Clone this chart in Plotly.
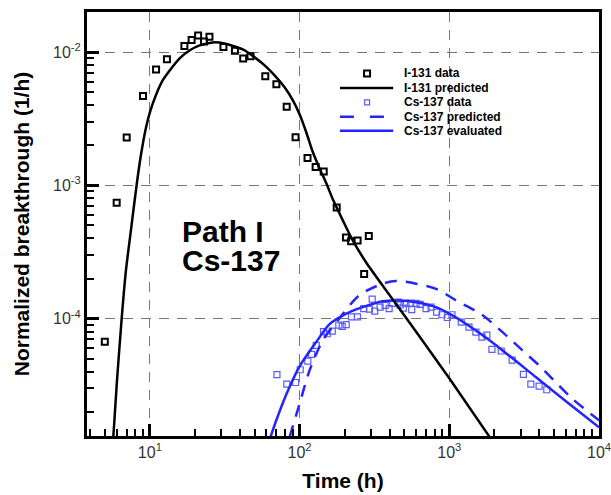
import plotly.graph_objects as go

# ---- I-131 measured breakthrough (time in h, normalized breakthrough in 1/h)
i131_t = [5, 6, 7, 9, 11, 13, 17, 19, 21, 23, 25, 31, 37, 42, 47, 59, 70, 82,
          94, 113, 128, 145, 177, 204, 221, 244, 270, 290]
i131_c = [6.7e-5, 7.4e-4, 2.28e-3, 4.67e-3, 7.38e-3, 8.82e-3, 1.11e-2, 1.23e-2,
          1.33e-2, 1.20e-2, 1.30e-2, 1.09e-2, 1.02e-2, 8.92e-3, 9.29e-3, 6.57e-3,
          5.73e-3, 3.89e-3, 2.29e-3, 1.60e-3, 1.37e-3, 1.27e-3, 6.81e-4, 4.07e-4,
          3.80e-4, 3.85e-4, 2.16e-4, 4.17e-4]

# ---- I-131 model prediction
i131_pred_t = [5.7, 6.03, 6.48, 6.92, 7.47, 8.15, 8.71, 9.4, 10, 10.96, 12.2, 13.6,
               15.8, 18.5, 21.5, 26.3, 31.6, 36.9, 43, 50.1, 58.4, 68.1, 79.4, 90.2,
               100, 110.8, 122.7, 136, 150.6, 166.8, 194.4, 226.5, 278.5, 378.5,
               631, 1000, 1848]
i131_pred_c = [1.3e-5, 3.44e-5, 1.0e-4, 2.3e-4, 4.6e-4, 1.0e-3, 1.68e-3, 2.68e-3,
               3.53e-3, 4.73e-3, 6.14e-3, 7.3e-3, 8.97e-3, 1.03e-2, 1.12e-2, 1.18e-2,
               1.16e-2, 1.10e-2, 1.03e-2, 9.12e-3, 7.94e-3, 6.68e-3, 5.43e-3, 4.34e-3,
               3.41e-3, 2.50e-3, 1.77e-3, 1.34e-3, 1.04e-3, 7.85e-4, 5.46e-4, 3.86e-4,
               2.64e-4, 1.63e-4, 7.38e-5, 3.57e-5, 1.31e-5]

# ---- Cs-137 measured breakthrough
cs137_t = [70.6, 82.2, 94, 101, 113.5, 120.2, 129.2, 144.5, 153, 165.2, 182.8, 192.6,
           204.8, 222.1, 243.6, 268.4, 292.9, 305.5, 317.7, 345.1, 372.6, 396.2, 418.8,
           455, 469, 493, 514, 552, 561, 600, 638, 700, 755, 823, 894, 970, 1042,
           1202, 1353, 1506, 1652, 1783, 1926, 2222, 2630, 3127, 3506, 3981, 4480]
cs137_c = [3.80e-5, 3.23e-5, 3.32e-5, 4.14e-5, 4.81e-5, 5.40e-5, 6.31e-5, 7.99e-5,
           7.71e-5, 8.07e-5, 8.95e-5, 8.75e-5, 9.01e-5, 1.03e-4, 1.03e-4, 1.19e-4,
           1.18e-4, 1.40e-4, 1.14e-4, 1.22e-4, 1.26e-4, 1.19e-4, 1.30e-4, 1.33e-4,
           1.27e-4, 1.20e-4, 1.30e-4, 1.31e-4, 1.17e-4, 1.30e-4, 1.28e-4, 1.19e-4,
           1.22e-4, 1.12e-4, 1.07e-4, 1.02e-4, 1.07e-4, 9.42e-5, 8.64e-5, 7.93e-5,
           7.27e-5, 7.53e-5, 5.89e-5, 5.72e-5, 4.89e-5, 3.82e-5, 3.23e-5, 3.12e-5,
           2.93e-5]

# ---- Cs-137 model prediction
cs137_pred_t = [85.8, 100, 116.6, 143, 185, 251, 359, 441, 600, 832, 1109, 1635,
                2266, 3080, 3981, 5140, 6637, 10000]
cs137_pred_c = [1.3e-5, 2.3e-5, 4.09e-5, 6.87e-5, 1.01e-4, 1.50e-4, 1.83e-4, 1.92e-4,
                1.83e-4, 1.66e-4, 1.37e-4, 1.08e-4, 7.93e-5, 5.78e-5, 4.46e-5,
                3.34e-5, 2.51e-5, 1.73e-5]

# ---- Cs-137 evaluated (fitted) curve
cs137_eval_t = [64, 69.9, 81.5, 100, 129, 158, 205, 264, 359, 464, 600, 815, 1000,
                1290, 1670, 2270, 3780, 6310, 10000]
cs137_eval_c = [1.3e-5, 1.73e-5, 2.70e-5, 4.39e-5, 6.67e-5, 9.06e-5, 1.09e-4, 1.22e-4,
                1.35e-4, 1.37e-4, 1.33e-4, 1.22e-4, 1.09e-4, 9.16e-5, 7.50e-5,
                5.78e-5, 3.65e-5, 2.30e-5, 1.53e-5]

# ---- axis ticks
x_major = [10, 100, 1000, 10000]
x_major_text = ["10<sup>1</sup>", "10<sup>2</sup>", "10<sup>3</sup>", "10<sup>4</sup>"]
x_minor = [m * d for d in (1, 10, 100, 1000) for m in range(2, 10) if m * d >= 4]
y_major = [1e-4, 1e-3, 1e-2]
y_major_text = ["10<sup>-4</sup>", "10<sup>-3</sup>", "10<sup>-2</sup>"]
y_minor = [m * d for d in (1e-5, 1e-4, 1e-3) for m in range(2, 10)]

legend_labels = ["I-131 data", "I-131 predicted", "Cs-137 data",
                 "Cs-137 predicted", "Cs-137 evaluated"]

BLUE = "#2424ff"
BLUE_PT = "#5a5aff"
FONT = "Liberation Sans, Arial, sans-serif"

fig = go.Figure()

fig.add_trace(go.Scatter(x=cs137_t, y=cs137_c, mode="markers",
                         marker=dict(symbol="square-open", size=6, color=BLUE_PT,
                                     line=dict(width=1.2, color=BLUE_PT))))
fig.add_trace(go.Scatter(x=cs137_pred_t, y=cs137_pred_c, mode="lines",
                         line=dict(color=BLUE, width=2.5, dash="12px,9px",
                                   shape="spline", smoothing=0.8)))
fig.add_trace(go.Scatter(x=cs137_eval_t, y=cs137_eval_c, mode="lines",
                         line=dict(color=BLUE, width=2.5, shape="spline", smoothing=0.8)))
fig.add_trace(go.Scatter(x=i131_pred_t, y=i131_pred_c, mode="lines",
                         line=dict(color="black", width=2.5, shape="spline", smoothing=0.6)))
fig.add_trace(go.Scatter(x=i131_t, y=i131_c, mode="markers",
                         marker=dict(symbol="square-open", size=6, color="black",
                                     line=dict(width=2, color="black"))))

# ---- hand-built compact legend (paper coordinates)
rows_y = [0.855, 0.821, 0.787, 0.753, 0.720]
sym_x0, sym_x1, sym_xc, text_x = 0.494, 0.598, 0.547, 0.615
shapes = []
# I-131 data marker
shapes.append(dict(type="rect", xref="paper", yref="paper", xsizemode="pixel",
                   ysizemode="pixel", xanchor=sym_xc, yanchor=rows_y[0],
                   x0=-3, x1=3, y0=-3, y1=3, line=dict(color="black", width=2)))
# I-131 predicted line
shapes.append(dict(type="line", xref="paper", yref="paper", x0=sym_x0, x1=sym_x1,
                   y0=rows_y[1], y1=rows_y[1], line=dict(color="black", width=2.5)))
# Cs-137 data marker
shapes.append(dict(type="rect", xref="paper", yref="paper", xsizemode="pixel",
                   ysizemode="pixel", xanchor=sym_xc, yanchor=rows_y[2],
                   x0=-2.5, x1=2.5, y0=-2.5, y1=2.5, line=dict(color=BLUE_PT, width=1.2)))
# Cs-137 predicted dashed line
shapes.append(dict(type="line", xref="paper", yref="paper", x0=sym_x0, x1=sym_x1,
                   y0=rows_y[3], y1=rows_y[3],
                   line=dict(color=BLUE, width=2.5, dash="14px,16px")))
# Cs-137 evaluated line
shapes.append(dict(type="line", xref="paper", yref="paper", x0=sym_x0, x1=sym_x1,
                   y0=rows_y[4], y1=rows_y[4], line=dict(color=BLUE, width=2.5)))

annotations = []
for lab, yy in zip(legend_labels, rows_y):
    annotations.append(dict(text=lab, xref="paper", yref="paper", x=text_x, y=yy,
                            xanchor="left", yanchor="middle", showarrow=False,
                            font=dict(family=FONT, size=12, color="black",
                                      weight="bold")))

# ---- case label
for lab, yy in zip(["Path I", "Cs-137"], [0.483, 0.414]):
    annotations.append(dict(text=lab, xref="paper", yref="paper", x=0.181, y=yy,
                            xanchor="left", yanchor="middle", showarrow=False,
                            font=dict(family=FONT, size=30, color="black",
                                      weight="bold")))

axis_common = dict(
    showline=True, linecolor="black", linewidth=3, mirror=True,
    ticks="inside", ticklen=12, tickwidth=2.5, tickcolor="black",
    showgrid=True, gridcolor="#777777", gridwidth=1.3, griddash="10px,8px",
    zeroline=False, automargin=False, ticklabeloverflow="allow",
    tickfont=dict(family=FONT, size=16, color="#333333"),
)

fig.update_xaxes(type="log", range=[0.58, 4.0], tickmode="array",
                 tickvals=x_major, ticktext=x_major_text,
                 minor=dict(tickmode="array", tickvals=x_minor, ticks="inside",
                            ticklen=7, tickwidth=2, tickcolor="black", showgrid=False),
                 title=dict(text="<b>Time (h)</b>", standoff=14,
                            font=dict(family=FONT, size=21, color="black")),
                 **axis_common)
fig.update_yaxes(type="log", range=[-4.88, -1.70], tickmode="array",
                 tickvals=y_major, ticktext=y_major_text,
                 minor=dict(tickmode="array", tickvals=y_minor, ticks="inside",
                            ticklen=7, tickwidth=2, tickcolor="black", showgrid=False),
                 title=dict(text="<b>Normalized breakthrough (1/h)</b>", standoff=18,
                            font=dict(family=FONT, size=21, color="black")),
                 **axis_common)

fig.update_layout(
    width=611, height=495,
    margin=dict(l=87, r=12, t=12, b=59),
    paper_bgcolor="white", plot_bgcolor="white",
    showlegend=False,
    shapes=shapes, annotations=annotations,
)

fig.write_html("out.html")
